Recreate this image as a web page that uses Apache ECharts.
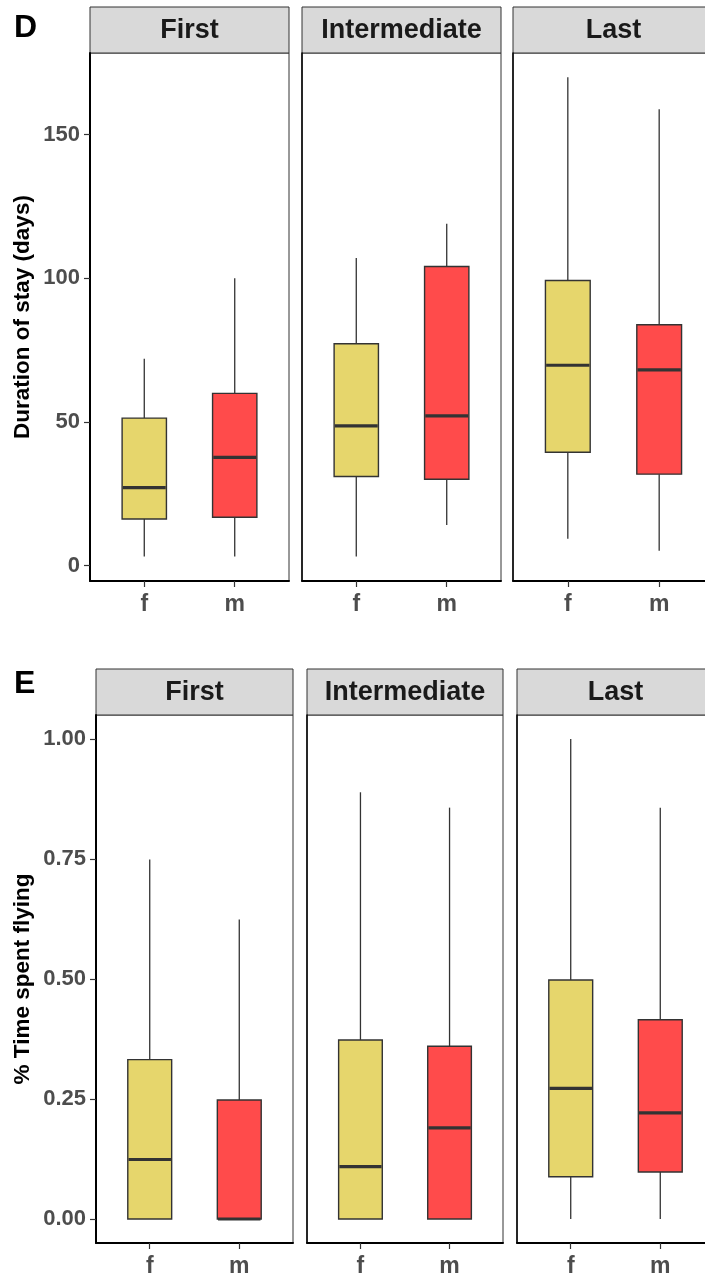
<!DOCTYPE html>
<html><head><meta charset="utf-8">
<script src="https://cdn.jsdelivr.net/npm/echarts@6/dist/echarts.min.js"></script>
<style>html,body{margin:0;padding:0;background:#fff;overflow:hidden}#c{width:730px;height:1276px}</style>
</head><body><div id="c"></div>
<script>
// ---- data ----
const facets = ['First', 'Intermediate', 'Last'];
const sexes = ['f', 'm'];
// each box: [lower whisker, Q1, median, Q3, upper whisker], order f, m
const durationFirst = [[3.1, 16.2, 27.1, 51.3, 72.0], [3.1, 16.8, 37.6, 59.9, 100.0]];
const durationIntermediate = [[3.1, 31.0, 48.6, 77.2, 107.0], [14.1, 30.0, 52.1, 104.1, 119.0]];
const durationLast = [[9.3, 39.4, 69.7, 99.2, 170.0], [5.1, 31.8, 68.1, 83.8, 158.8]];
const flyingFirst = [[0, 0, 0.124, 0.332, 0.749], [0, 0, 0, 0.248, 0.624]];
const flyingIntermediate = [[0, 0, 0.109, 0.373, 0.889], [0, 0, 0.19, 0.36, 0.857]];
const flyingLast = [[0, 0.088, 0.272, 0.498, 1.0], [0, 0.098, 0.221, 0.415, 0.857]];
const durationTicks = [0, 50, 100, 150];
const flyingTicks = [0, 0.25, 0.5, 0.75, 1.0];

// ---- style ----
const sexColors = ['#E6D66C', '#FF4B4B'];
const FONT = 'Liberation Sans, Arial, sans-serif';
const rows = [
  { letter: 'D', title: 'Duration of stay (days)', data: [durationFirst, durationIntermediate, durationLast],
    ticks: durationTicks, fmt: v => String(v), min: -5.4, max: 178.4,
    top: 53, height: 528, lefts: [90, 302, 513], widths: [199, 199, 201], stripTop: 7, letterY: 28 },
  { letter: 'E', title: '% Time spent flying', data: [flyingFirst, flyingIntermediate, flyingLast],
    ticks: flyingTicks, fmt: v => v.toFixed(2), min: -0.05, max: 1.05,
    top: 715, height: 528, lefts: [96, 307, 517], widths: [197, 196, 197], stripTop: 669, letterY: 684 }
];

function renderBox(params, api) {
  const x = api.value(0);
  const p = k => api.coord([x, api.value(k)]);
  const lo = p(1), q1 = p(2), md = p(3), q3 = p(4), hi = p(5);
  const w = api.size([0.49, 0])[0];
  const cx = lo[0];
  const fill = sexColors[params.dataIndex];
  const ws = { stroke: '#333', lineWidth: 1.3 };
  return { type: 'group', children: [
    { type: 'line', shape: { x1: cx, y1: hi[1], x2: cx, y2: q3[1] }, style: ws },
    { type: 'line', shape: { x1: cx, y1: q1[1], x2: cx, y2: lo[1] }, style: ws },
    { type: 'rect', shape: { x: cx - w / 2, y: q3[1], width: w, height: q1[1] - q3[1] },
      style: { fill: fill, stroke: '#333', lineWidth: 1.4 } },
    { type: 'line', shape: { x1: cx - w / 2 + 0.7, y1: md[1], x2: cx + w / 2 - 0.7, y2: md[1] },
      style: { stroke: '#333', lineWidth: 3.2 } }
  ] };
}

const grid = [], xAxis = [], yAxis = [], series = [], graphic = [];
rows.forEach((row, r) => {
  graphic.push({ type: 'text', left: 14, top: row.letterY - 16,
    style: { text: row.letter, font: 'bold 32px ' + FONT, fill: '#000' } });
  graphic.push({ type: 'text', x: 23, y: row.top + row.height / 2, rotation: Math.PI / 2,
    style: { text: row.title, font: 'bold 22.5px ' + FONT, fill: '#000', textAlign: 'center', textVerticalAlign: 'middle' } });
  facets.forEach((f, i) => {
    const gi = grid.length;
    grid.push({ left: row.lefts[i], top: row.top, width: row.widths[i], height: row.height,
      show: true, borderColor: '#333', borderWidth: 1, backgroundColor: '#fff',
      containLabel: false, outerBoundsMode: 'none' });
    graphic.push({ type: 'rect', shape: { x: row.lefts[i], y: row.stripTop, width: row.widths[i], height: row.top - row.stripTop },
      style: { fill: '#D9D9D9', stroke: '#333', lineWidth: 1 } });
    graphic.push({ type: 'text', x: row.lefts[i] + row.widths[i] / 2, y: (row.stripTop + row.top) / 2 + 1,
      style: { text: f, font: 'bold 27px ' + FONT, fill: '#1A1A1A', textAlign: 'center', textVerticalAlign: 'middle' } });
    xAxis.push({ gridIndex: gi, type: 'value', min: 0.4, max: 2.6,
      axisLine: { show: true, onZero: false, lineStyle: { color: '#000', width: 2 } },
      axisTick: { show: true, customValues: [1, 2], length: 6, lineStyle: { color: '#333', width: 1.2 } },
      axisLabel: { show: true, customValues: [1, 2], formatter: v => sexes[Math.round(v) - 1], margin: 12,
        color: '#4D4D4D', fontWeight: 'bold', fontSize: 23, fontFamily: FONT },
      splitLine: { show: false } });
    const first = i === 0;
    yAxis.push({ gridIndex: gi, type: 'value', min: row.min, max: row.max,
      axisLine: { show: true, onZero: false, lineStyle: { color: '#000', width: first ? 2 : 1.5 } },
      axisTick: { show: first, customValues: row.ticks, length: 6, lineStyle: { color: '#333', width: 1.2 } },
      axisLabel: { show: first, customValues: row.ticks, formatter: row.fmt, margin: 10,
        color: '#4D4D4D', fontWeight: 'bold', fontSize: 22, fontFamily: FONT },
      splitLine: { show: false } });
    series.push({ type: 'custom', xAxisIndex: gi, yAxisIndex: gi, renderItem: renderBox,
      encode: { x: 0, y: [1, 2, 3, 4, 5] }, silent: true,
      data: row.data[i].map((b, k) => [k + 1].concat(b)) });
  });
});

const chart = echarts.init(document.getElementById('c'), null, { renderer: 'canvas' });
chart.setOption({ backgroundColor: '#fff', animation: false, grid, xAxis, yAxis, series, graphic });
</script></body></html>
